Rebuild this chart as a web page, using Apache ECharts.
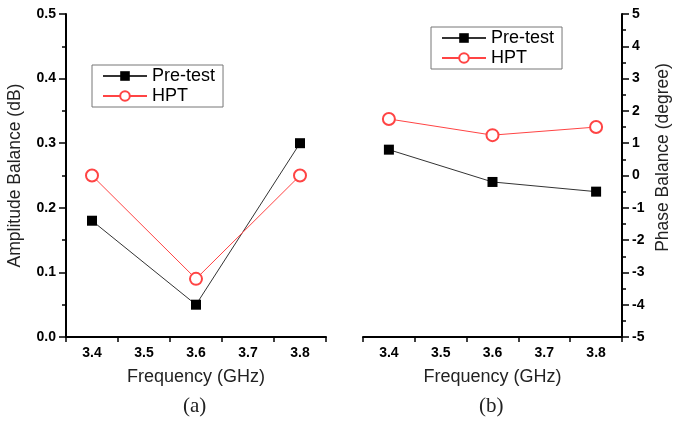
<!DOCTYPE html>
<html>
<head>
<meta charset="utf-8">
<script src="https://cdn.jsdelivr.net/npm/echarts@6/dist/echarts.min.js"></script>
<style>
  html, body { margin: 0; padding: 0; background: #fff; }
  #chart { width: 673px; height: 430px; }
</style>
</head>
<body>
<div id="chart"></div>
<script>
// frequency categories on the x axis (GHz)
const freqLabels = ['3.4', '3.5', '3.6', '3.7', '3.8'];
// measured frequencies
const measFreqs = ['3.4', '3.6', '3.8'];
// (a) amplitude balance, dB
const ampPre = [0.18, 0.05, 0.30];
const ampHpt = [0.25, 0.09, 0.25];
// (b) phase balance, degree
const phasePre = [0.8, -0.2, -0.5];
const phaseHpt = [1.75, 1.25, 1.5];

const pairs = (vals) => measFreqs.map((f, i) => [f, vals[i]]);

const FONT = 'Liberation Sans, Arial, sans-serif';
const RED = '#ff4444';

const xAxisBase = {
  type: 'category',
  data: freqLabels,
  boundaryGap: true,
  axisLine: { onZero: false, lineStyle: { color: '#000', width: 2 } },
  axisTick: { show: true, length: 5, lineStyle: { color: '#000', width: 1.5 } },
  axisLabel: { color: '#000', fontFamily: FONT, fontWeight: 'bold', fontSize: 14, margin: 9 },
  splitLine: { show: false },
  name: 'Frequency (GHz)',
  nameLocation: 'middle',
  nameGap: 31,
  nameTextStyle: { color: '#222', fontFamily: FONT, fontSize: 18 }
};

const yAxisBase = {
  type: 'value',
  axisLine: { show: true, onZero: false, lineStyle: { color: '#000', width: 2 } },
  axisTick: { show: true, length: 7, lineStyle: { color: '#000', width: 1.5 } },
  minorTick: { show: true, splitNumber: 2, length: 4, lineStyle: { color: '#000', width: 1.5 } },
  axisLabel: { color: '#000', fontFamily: FONT, fontWeight: 'bold', fontSize: 14, margin: 10 },
  splitLine: { show: false },
  nameLocation: 'middle',
  nameRotate: 90,
  nameTextStyle: { color: '#222', fontFamily: FONT, fontSize: 17.5 }
};

const preStyle = {
  type: 'line',
  symbol: 'rect',
  symbolSize: 10,
  lineStyle: { color: '#333', width: 1 },
  itemStyle: { color: '#000' }
};
const hptStyle = {
  type: 'line',
  symbol: 'emptyCircle',
  symbolSize: 12,
  lineStyle: { color: RED, width: 1 },
  itemStyle: { color: RED, borderColor: RED, borderWidth: 1 }
};

const legendBase = {
  orient: 'vertical',
  data: ['Pre-test', 'HPT'],
  itemWidth: 44,
  itemHeight: 12,
  itemGap: 2,
  padding: [2, 8, 2, 10],
  borderColor: '#777',
  borderWidth: 1,
  textStyle: { color: '#000', fontFamily: FONT, fontSize: 18 }
};

const chart = echarts.init(document.getElementById('chart'));
chart.setOption({
  animation: false,
  backgroundColor: '#fff',
  grid: [
    { left: 66, top: 14, width: 260, height: 323 },
    { left: 363, top: 14, width: 261, height: 323 }
  ],
  legend: [
    Object.assign({}, legendBase, { left: 92, top: 65 }),
    Object.assign({}, legendBase, { left: 431, top: 27 })
  ],
  xAxis: [
    Object.assign({}, xAxisBase, { gridIndex: 0 }),
    Object.assign({}, xAxisBase, { gridIndex: 1 })
  ],
  yAxis: [
    Object.assign({}, yAxisBase, {
      gridIndex: 0, min: 0, max: 0.5, interval: 0.1,
      name: 'Amplitude Balance (dB)', nameGap: 42,
      axisLabel: Object.assign({}, yAxisBase.axisLabel, { formatter: (v) => v.toFixed(1) })
    }),
    Object.assign({}, yAxisBase, {
      gridIndex: 1, position: 'right', min: -5, max: 5, interval: 1,
      name: 'Phase Balance (degree)', nameGap: 32,
      nameTextStyle: Object.assign({}, yAxisBase.nameTextStyle, { padding: [0, 0, 0, 36] })
    })
  ],
  graphic: [
    { type: 'text', left: 183, top: 396, style: { text: '(a)', font: '21px "Liberation Serif", serif', fill: '#222' } },
    { type: 'text', left: 479, top: 396, style: { text: '(b)', font: '21px "Liberation Serif", serif', fill: '#222' } }
  ],
  series: [
    Object.assign({ name: 'Pre-test', xAxisIndex: 0, yAxisIndex: 0, data: pairs(ampPre) }, preStyle),
    Object.assign({ name: 'HPT', xAxisIndex: 0, yAxisIndex: 0, data: pairs(ampHpt) }, hptStyle),
    Object.assign({ name: 'Pre-test', xAxisIndex: 1, yAxisIndex: 1, data: pairs(phasePre) }, preStyle),
    Object.assign({ name: 'HPT', xAxisIndex: 1, yAxisIndex: 1, data: pairs(phaseHpt) }, hptStyle)
  ]
});
</script>
</body>
</html>
